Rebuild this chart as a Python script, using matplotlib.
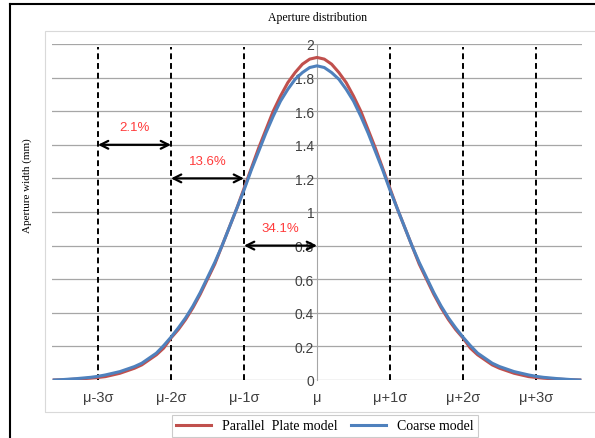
import numpy as np
import matplotlib.pyplot as plt
from matplotlib.patches import Rectangle
from matplotlib.lines import Line2D

# x in units of sigma, read every 0.1 sigma off the chart
sigma_pos = [-3.6, -3.5, -3.4, -3.3, -3.2, -3.1, -3.0, -2.9, -2.8, -2.7, -2.6, -2.5,
             -2.4, -2.3, -2.2, -2.1, -2.0, -1.9, -1.8, -1.7, -1.6, -1.5, -1.4, -1.3,
             -1.2, -1.1, -1.0, -0.9, -0.8, -0.7, -0.6, -0.5, -0.4, -0.3, -0.2, -0.1,
             0.0,
             0.1, 0.2, 0.3, 0.4, 0.5, 0.6, 0.7, 0.8, 0.9, 1.0, 1.1, 1.2,
             1.3, 1.4, 1.5, 1.6, 1.7, 1.8, 1.9, 2.0, 2.1, 2.2, 2.3, 2.4,
             2.5, 2.6, 2.7, 2.8, 2.9, 3.0, 3.1, 3.2, 3.3, 3.4, 3.5, 3.6]
parallel_plate = [0.0, 0.001, 0.003, 0.005, 0.008, 0.011, 0.015, 0.02, 0.03, 0.04, 0.055, 0.07,
                  0.09, 0.12, 0.15, 0.19, 0.25, 0.30, 0.36, 0.43, 0.51, 0.60, 0.69, 0.80,
                  0.91, 1.02, 1.14, 1.26, 1.38, 1.49, 1.60, 1.69, 1.77, 1.83, 1.88, 1.91,
                  1.92,
                  1.91, 1.88, 1.83, 1.77, 1.69, 1.60, 1.49, 1.38, 1.26, 1.14, 1.02, 0.91,
                  0.80, 0.69, 0.60, 0.51, 0.43, 0.36, 0.30, 0.25, 0.19, 0.15, 0.12, 0.09,
                  0.07, 0.055, 0.04, 0.03, 0.02, 0.015, 0.011, 0.008, 0.005, 0.003, 0.001, 0.0]
coarse = [0.0, 0.002, 0.005, 0.008, 0.012, 0.016, 0.022, 0.03, 0.04, 0.05, 0.065, 0.08,
          0.10, 0.13, 0.16, 0.205, 0.255, 0.31, 0.37, 0.44, 0.52, 0.61, 0.70, 0.80,
          0.91, 1.02, 1.13, 1.25, 1.36, 1.47, 1.57, 1.66, 1.73, 1.79, 1.83, 1.86,
          1.87,
          1.86, 1.83, 1.79, 1.73, 1.66, 1.57, 1.47, 1.36, 1.25, 1.13, 1.02, 0.91,
          0.80, 0.70, 0.61, 0.52, 0.44, 0.37, 0.31, 0.255, 0.205, 0.16, 0.13, 0.10,
          0.08, 0.065, 0.05, 0.04, 0.03, 0.022, 0.016, 0.012, 0.008, 0.005, 0.002, 0.0]

sigma_ticks = [-3, -2, -1, 0, 1, 2, 3]
sigma_labels = ["μ-3σ", "μ-2σ", "μ-1σ", "μ", "μ+1σ", "μ+2σ", "μ+3σ"]
y_ticks = [0, 0.2, 0.4, 0.6, 0.8, 1, 1.2, 1.4, 1.6, 1.8, 2]
y_labels = ["0", "0.2", "0.4", "0.6", "0.8", "1", "1.2", "1.4", "1.6", "1.8", "2"]

# arrows: start, end, height, label
arrow_start = [-3, -2, -1]
arrow_end = [-2, -1, 0]
arrow_y = [1.4, 1.2, 0.8]
arrow_text = ["2.1%", "13.6%", "34.1%"]

red = "#C0504D"
blue = "#4F81BD"
serif = "Liberation Serif"
sans = "Liberation Sans"

fig = plt.figure(figsize=(5.95, 4.39), dpi=100)
W, H = 595, 439

# outer frame (black top and left edge) and inner gray chart box
fig.add_artist(Line2D([10/W, 1], [1-5/H, 1-5/H], color="black", lw=1.5, transform=fig.transFigure))
fig.add_artist(Line2D([10/W, 10/W], [0, 1-5/H], color="black", lw=1.5, transform=fig.transFigure))
fig.add_artist(Rectangle((45/W, 1-413/H), 1.1, (413-32)/H, fill=False, ec="#d9d9d9", lw=0.8,
                         transform=fig.transFigure))

ax = fig.add_axes([52/W, 1-381/H, 530/W, 336/H])
ax.set_xlim(-3.63, 3.63)
ax.set_ylim(0, 2)

for y in y_ticks[1:]:
    ax.axhline(y, color="#a6a6a6", lw=0.9, zorder=1)

for s in ["top", "right", "bottom"]:
    ax.spines[s].set_visible(False)
ax.spines["left"].set_position(("data", 0))
ax.spines["left"].set_color("#a6a6a6")
ax.axhline(0, color="#a6a6a6", lw=0.9, zorder=1)

ax.set_yticks(y_ticks)
ax.set_yticklabels(y_labels, fontsize=10, color="#404040", family=sans)
ax.tick_params(axis="y", length=0, pad=2)
ax.set_xticks([])

for i, s in enumerate(sigma_ticks):
    ax.text(s, -0.06, sigma_labels[i], ha="center", va="top", fontsize=10.5,
            color="#404040", family=sans)
    if s != 0:
        ax.plot([s, s], [0, 1.98], color="black", lw=1.4, ls=(0, (3, 2)), zorder=2)

ax.plot(sigma_pos, parallel_plate, color=red, lw=2.2, zorder=4, label="Parallel  Plate model")
ax.plot(sigma_pos, coarse, color=blue, lw=2.2, zorder=5, label="Coarse model")

for i in range(len(arrow_start)):
    ax.annotate("", xy=(arrow_end[i], arrow_y[i]), xytext=(arrow_start[i], arrow_y[i]),
                arrowprops=dict(arrowstyle="<->", color="black", lw=1.6,
                                shrinkA=0, shrinkB=0, mutation_scale=14), zorder=6)
    ax.text((arrow_start[i] + arrow_end[i]) / 2, arrow_y[i] + 0.07, arrow_text[i],
            ha="center", va="bottom", fontsize=9.5, color="#ff3b3b", family=sans)

fig.text(318/W, 1-18/H, "Aperture distribution", ha="center", va="center",
         fontsize=8.5, family=serif)
fig.text(27/W, 1-186/H, "Aperture width (mm)", ha="center", va="center",
         rotation=90, fontsize=8, family=serif)

leg = fig.legend(loc="center", bbox_to_anchor=(325/W, 1-427/H), ncol=2,
                 prop={"family": serif, "size": 10}, frameon=True, fancybox=False,
                 edgecolor="#bfbfbf", handlelength=2.5, columnspacing=1.0,
                 borderpad=0.3)
leg.get_frame().set_linewidth(0.8)

fig.savefig("out.png", dpi=100)
